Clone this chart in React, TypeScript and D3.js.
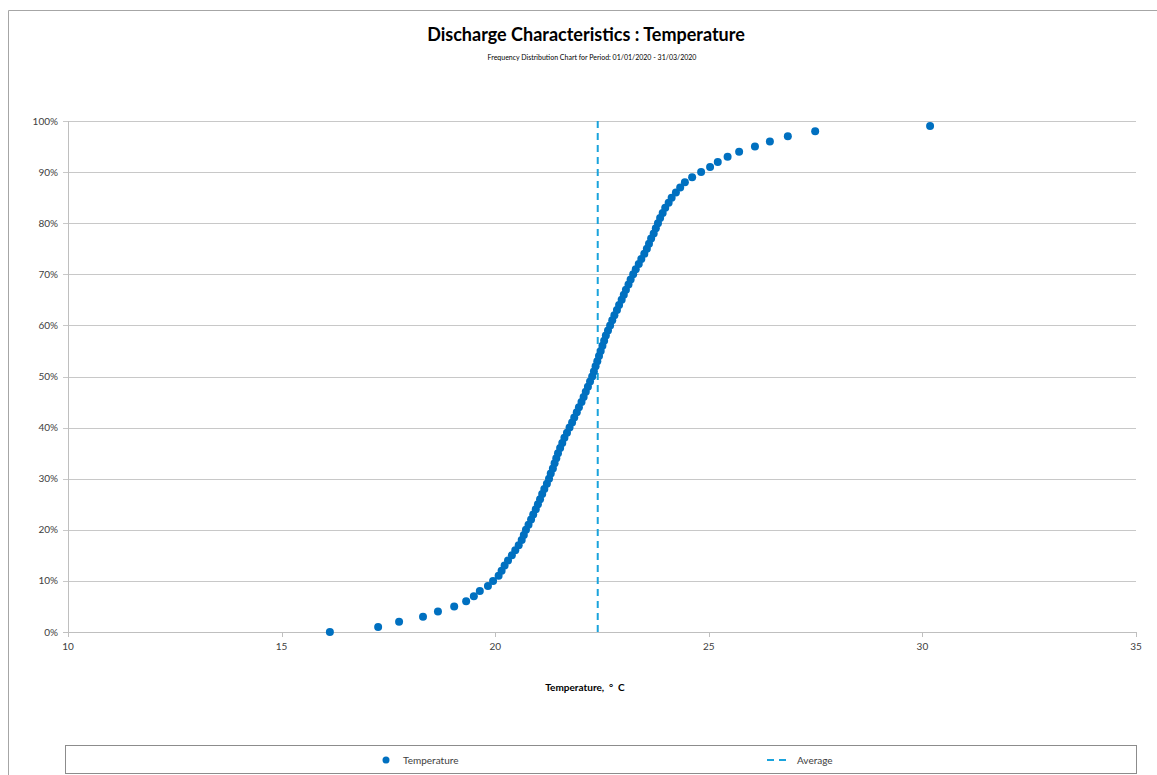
import React from 'react';
import * as d3 from 'd3';

// cumulative frequency (%) for each measured temperature
const percents = d3.range(0, 100);
const temps = [
  16.13, 17.26, 17.75, 18.31, 18.66, 19.04, 19.32, 19.5, 19.64, 19.83,
  19.95, 20.08, 20.15, 20.22, 20.3, 20.39, 20.47, 20.55, 20.62, 20.67,
  20.72, 20.78, 20.84, 20.89, 20.95, 21.0, 21.05, 21.1, 21.15, 21.21,
  21.26, 21.3, 21.35, 21.39, 21.43, 21.47, 21.52, 21.57, 21.62, 21.68,
  21.74, 21.8, 21.85, 21.91, 21.96, 22.02, 22.07, 22.12, 22.17, 22.22,
  22.27, 22.31, 22.35, 22.39, 22.43, 22.47, 22.51, 22.55, 22.59, 22.64,
  22.69, 22.74, 22.79, 22.85, 22.9, 22.96, 23.01, 23.06, 23.12, 23.17,
  23.23, 23.29, 23.36, 23.42, 23.49, 23.55, 23.6, 23.65, 23.71, 23.76,
  23.81, 23.86, 23.92, 23.98, 24.06, 24.13, 24.23, 24.33, 24.44, 24.61,
  24.82, 25.03, 25.21, 25.44, 25.71, 26.08, 26.43, 26.85, 27.49, 30.18,
];
const average = 22.4;
const xTicks = [10, 15, 20, 25, 30, 35];
const yTicks = [0, 10, 20, 30, 40, 50, 60, 70, 80, 90, 100];

const W = 1157;
const H = 775;
const margin = { left: 68, right: 21, top: 121, bottom: 143 };

const App: React.FC = () => {
  const x = d3.scaleLinear().domain([10, 35]).range([margin.left, W - margin.right]);
  const y = d3.scaleLinear().domain([0, 100]).range([H - margin.bottom, margin.top]);
  const font = 'Lato, "Open Sans", sans-serif';

  return (
    <svg width={W} height={H} style={{ position: 'absolute', left: 0, top: 0 }} fontFamily={font}>
      <rect x={0} y={0} width={W} height={H} fill="#fff" />
      <path d={`M8.5,${H} V10.5 H${W}`} fill="none" stroke="#a6a6a6" />

      <text x={586} y={41} textAnchor="middle" fontSize={18} fontWeight="bold" fill="#000">
        Discharge Characteristics : Temperature
      </text>
      <text x={592} y={60} textAnchor="middle" fontSize={7} fill="#000">
        Frequency Distribution Chart for Period: 01/01/2020 - 31/03/2020
      </text>

      {/* gridlines */}
      {yTicks.map(t => (
        <g key={'y' + t}>
          <line x1={margin.left - 5} x2={W - margin.right} y1={Math.round(y(t)) + 0.5} y2={Math.round(y(t)) + 0.5}
            stroke={t === 0 ? '#bfbfbf' : '#c8c8c8'} />
          <text x={58} y={y(t) + 3.5} textAnchor="end" fontSize={10} fill="#404040">{t}%</text>
        </g>
      ))}
      <line x1={margin.left + 0.5} x2={margin.left + 0.5} y1={y(100)} y2={y(0)} stroke="#bfbfbf" />
      {xTicks.map(t => (
        <g key={'x' + t}>
          <line x1={Math.round(x(t)) + 0.5} x2={Math.round(x(t)) + 0.5} y1={y(0)} y2={y(0) + 5} stroke="#bfbfbf" />
          <text x={x(t)} y={y(0) + 18} textAnchor="middle" fontSize={10} fill="#404040">{t}</text>
        </g>
      ))}
      <text x={585} y={691} textAnchor="middle" fontSize={10} fontWeight="bold" fill="#000"
        style={{ whiteSpace: 'pre' }}>
        {'Temperature,  °  C'}
      </text>

      {/* average */}
      <line x1={x(average)} x2={x(average)} y1={y(100)} y2={y(0)} stroke="#1aa3dc" strokeWidth={2} strokeDasharray="7,5" />

      {/* points */}
      {temps.map((t, i) => (
        <circle key={i} cx={x(t)} cy={y(percents[i])} r={4} fill="#0070c0" />
      ))}

      {/* legend */}
      <rect x={65.5} y={745.5} width={1071} height={28} fill="none" stroke="#8c8c8c" />
      <circle cx={386} cy={760} r={3.5} fill="#0070c0" />
      <text x={403} y={764} fontSize={10} fill="#404040">Temperature</text>
      <line x1={767} x2={790} y1={760} y2={760} stroke="#1aa3dc" strokeWidth={2} strokeDasharray="7,5" />
      <text x={797} y={764} fontSize={10} fill="#404040">Average</text>
    </svg>
  );
};

export default App;
